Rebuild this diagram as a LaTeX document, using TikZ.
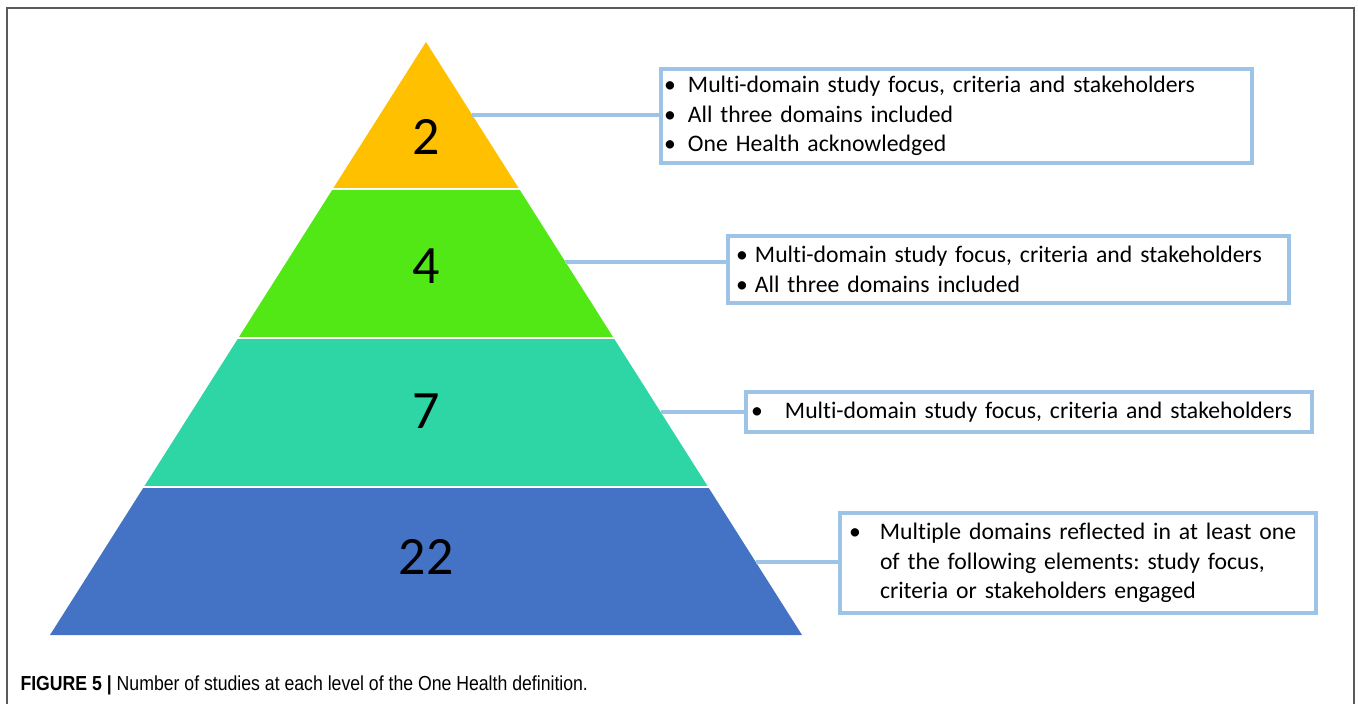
\documentclass[tikz,border=0pt]{standalone}
\usepackage{fontspec}
\setmainfont{Carlito}[Ligatures=NoCommon]
\newfontfamily\capfont{Liberation Sans}[FakeStretch=0.87]
\usepackage{xcolor}
\usepackage{tikz}
\usetikzlibrary{positioning}
\definecolor{tipgold}{RGB}{255,192,0}
\definecolor{lvlgreen}{RGB}{82,232,22}
\definecolor{lvlteal}{RGB}{46,214,166}
\definecolor{lvlblue}{RGB}{68,114,196}
\definecolor{boxblue}{RGB}{157,195,230}
\definecolor{framegray}{RGB}{90,90,90}
\newcommand{\bul}[1]{\makebox[#1][l]{\textbullet}}
\frenchspacing

\begin{document}
\begin{tikzpicture}[x=1pt,y=-1pt,
        level/.style={font=\fontsize{54}{60}\selectfont},
        infobox/.style={draw=boxblue,line width=4pt,fill=white,anchor=west,
            align=left,inner ysep=0pt,font=\fontsize{23.7}{29.5}\selectfont},
        link/.style={draw=boxblue,line width=4pt}]
        \useasboundingbox (0,0) rectangle (1358,704);
        \draw[framegray, line width=1.5pt] (7,704) -- (7,8) -- (1354,8) -- (1354,704);

        % pyramid bands
        \begin{scope}
            \clip (426,42) -- (50,635) -- (802,635) -- cycle;
            \fill[tipgold]  (0,0)   rectangle (1358,188);
            \fill[lvlgreen] (0,190) rectangle (1358,337);
            \fill[lvlteal]  (0,339) rectangle (1358,486);
            \fill[lvlblue]  (0,488) rectangle (1358,640);
        \end{scope}

        \node[level]    (n_2)     at (426,137)    {2};
        \node[level]    (n_4)     at (426,266)    {4};
        \node[level]    (n_7)     at (426,411)    {7};
        \node[level]    (n_22)    at (426,557)    {22};

        \node[infobox, inner xsep=3pt, text width=585pt, minimum height=94pt]  (box_1)  at (659,116)
            {\bul{24pt}Multi-domain study focus, criteria and stakeholders\\
             \bul{24pt}All three domains included\\
             \bul{24pt}One Health acknowledged};
        \node[infobox, inner xsep=8pt, text width=545pt, minimum height=67pt]  (box_2)  at (726,269.5)
            {\bul{19pt}Multi-domain study focus, criteria and stakeholders\\
             \bul{19pt}All three domains included};
        \node[infobox, inner xsep=5pt, text width=556pt, minimum height=40pt]  (box_3)  at (744,412)
            {\bul{34pt}Multi-domain study focus, criteria and stakeholders};
        \node[infobox, inner xsep=9pt, text width=458pt, minimum height=100pt] (box_4)  at (838,563)
            {\bul{31pt}Multiple domains reflected in at least one\\
             \hspace*{31pt}of the following elements: study focus,\\
             \hspace*{31pt}criteria or stakeholders engaged};

        \coordinate (e_1) at (472,115);
        \coordinate (e_2) at (565,262);
        \coordinate (e_3) at (661,412);
        \coordinate (e_4) at (756,562);
        \path[link] (e_1) -- (e_1 -| box_1.west)
        (e_2) -- (e_2 -| box_2.west)
        (e_3) -- (e_3 -| box_3.west)
        (e_4) -- (e_4 -| box_4.west);

        \node[anchor=base west, font=\capfont\fontsize{20.3}{24}\selectfont] (caption) at (17,690)
            {\textbf{FIGURE 5 |} Number of studies at each level of the One Health definition.};
    \end{tikzpicture}
\end{document}
